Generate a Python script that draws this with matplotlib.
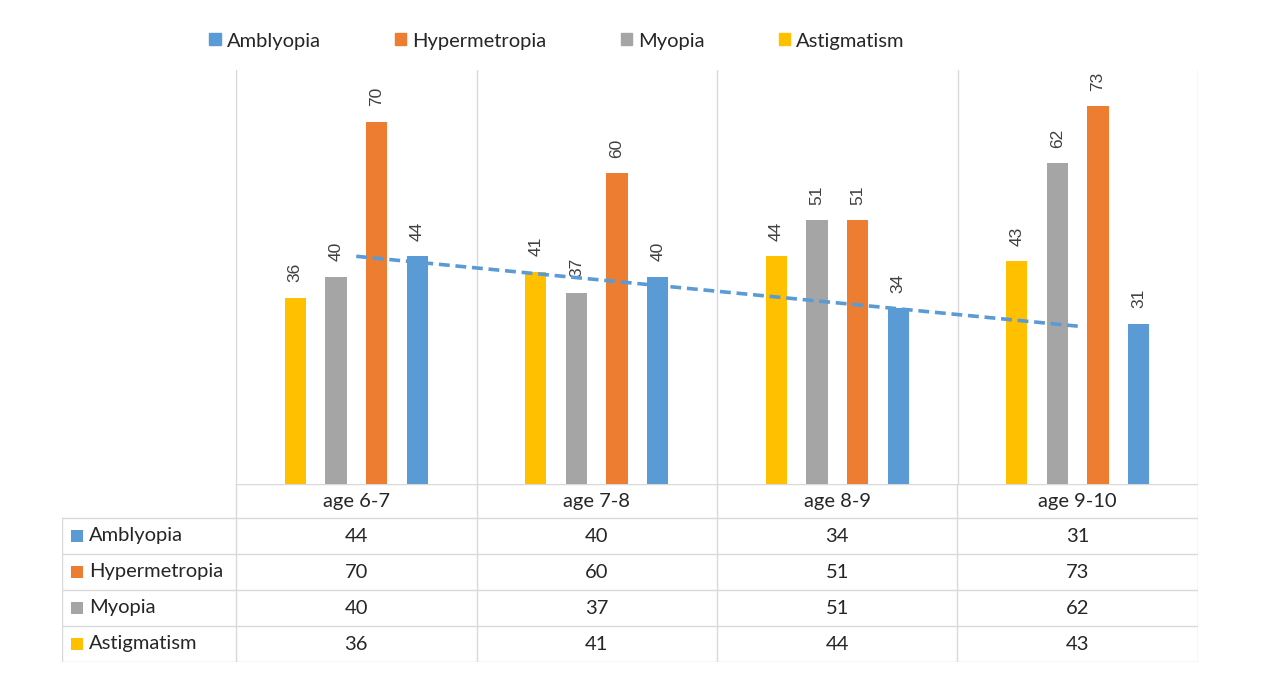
import matplotlib.pyplot as plt
from matplotlib.patches import Patch
import numpy as np

plt.rcParams['font.family'] = ['Lato', 'DejaVu Sans']

categories = ["age 6-7", "age 7-8", "age 8-9", "age 9-10"]
series = ["Amblyopia", "Hypermetropia", "Myopia", "Astigmatism"]
amblyopia = [44, 40, 34, 31]
hypermetropia = [70, 60, 51, 73]
myopia = [40, 37, 51, 62]
astigmatism = [36, 41, 44, 43]

colors = {"Amblyopia": "#5B9BD5", "Hypermetropia": "#ED7D31",
          "Myopia": "#A5A5A5", "Astigmatism": "#FFC000"}
values = {"Amblyopia": amblyopia, "Hypermetropia": hypermetropia,
          "Myopia": myopia, "Astigmatism": astigmatism}
bar_order = ["Astigmatism", "Myopia", "Hypermetropia", "Amblyopia"]

W, H = 1279, 681
grid_c = "#d9d9d9"
txt_c = "#262626"
fs = 14.5

fig = plt.figure(figsize=(W / 100, H / 100), dpi=100)

# main plot area (pixel box 236..1198 x 70..484)
ax = fig.add_axes([236 / W, (H - 484) / H, 962 / W, (484 - 70) / H])
x = np.arange(len(categories)) + 0.5
step = 0.169
bw = 0.088
for k, name in enumerate(bar_order):
    xs = x + (k - 1.5) * step
    ax.bar(xs, values[name], width=bw, color=colors[name], zorder=2)
    for xi, v in zip(xs, values[name]):
        ax.text(xi, v + 3.0, str(v), rotation=90, ha='center', va='bottom',
                fontsize=12.5, color="#404040", family=['Liberation Sans'])

# linear trendline for Amblyopia
coef = np.polyfit(np.arange(1, 5), amblyopia, 1)
ax.plot(x, np.polyval(coef, np.arange(1, 5)), '--', color="#5B9BD5",
        lw=2.6, dashes=(3, 1.6), zorder=3)

ax.set_xlim(0, 4)
ax.set_ylim(0, 80)
for b in range(5):
    ax.axvline(b, color=grid_c, lw=1, zorder=1)
for s in ax.spines.values():
    s.set_visible(False)
ax.set_xticks([])
ax.set_yticks([])

# data table (pixel box 62..1198 x 484..662)
left_w = (236 - 62) / 240.5
tab = fig.add_axes([62 / W, (H - 662) / H, (1198 - 62) / W, (662 - 484) / H])
tab.set_xlim(-left_w, 4)
tab.set_ylim(662, 484)
tab.axis('off')
rows = [484, 518, 554, 590, 626, 662]
tab.plot([0, 4], [484, 484], color=grid_c, lw=1)
for b in range(5):
    tab.plot([b, b], [484, 662], color=grid_c, lw=1)
tab.plot([-left_w, -left_w], [518, 662], color=grid_c, lw=1)
for r in rows[1:]:
    tab.plot([-left_w, 4], [r, r], color=grid_c, lw=1)
for i, c in enumerate(categories):
    tab.text(i + 0.5, (484 + 518) / 2, c, ha='center', va='center',
             fontsize=fs, color=txt_c)
for j, name in enumerate(series):
    yc = (rows[j + 1] + rows[j + 2]) / 2
    tab.scatter([-left_w + 15 / 240.5], [yc], marker='s', s=68,
                color=colors[name], linewidths=0)
    tab.text(-left_w + 27 / 240.5, yc, name, ha='left', va='center',
             fontsize=fs, color=txt_c)
    for i, v in enumerate(values[name]):
        tab.text(i + 0.5, yc, str(v), ha='center', va='center',
                 fontsize=fs, color=txt_c)

# legend at top
handles = [Patch(color=colors[n], label=n) for n in series]
fig.legend(handles=handles, loc='center', ncol=4,
           bbox_to_anchor=(557 / W, 1 - 41 / H), frameon=False,
           fontsize=fs, handlelength=0.55, handleheight=0.55,
           handletextpad=0.3, columnspacing=3.7, labelcolor=txt_c)

fig.savefig("out.png", dpi=100)
